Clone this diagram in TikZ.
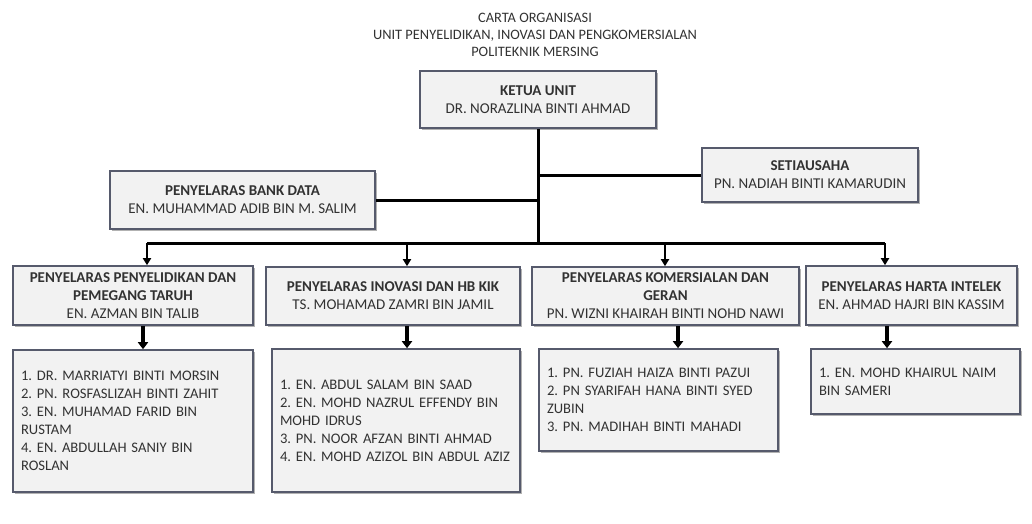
\documentclass[tikz,border=0pt]{standalone}
\usepackage{fontspec}
\setmainfont{Carlito}
\usetikzlibrary{arrows.meta, positioning, shadows}
\definecolor{boxline}{RGB}{86,90,108}
\definecolor{boxfill}{RGB}{242,242,242}
\definecolor{txtcolor}{RGB}{50,50,50}

\begin{document}
\frenchspacing
\begin{tikzpicture}[x=1pt, y=-1pt,
    box/.style={draw=boxline, line width=1.6pt, fill=boxfill, text=txtcolor, align=center, inner xsep=3pt, inner ysep=1pt, font=\fontsize{15}{18}\selectfont, drop shadow={shadow xshift=2pt, shadow yshift=-2pt, fill=black!55, opacity=0.55}},
    listbox/.style={box, align=left, inner xsep=8pt, font=\fontsize{14.6}{18}\selectfont},
    link/.style={line width=3pt},
    drop/.style={line width=2.6pt, -{Triangle[length=7pt, width=8pt]}},
    down/.style={line width=4pt, -{Triangle[length=7pt, width=10pt]}}]
    \useasboundingbox (0,0) rectangle (1032,523);

    % Title
    \node[text=txtcolor, align=center, font=\fontsize{14.4}{17}\selectfont] (title) at (535,35) {CARTA ORGANISASI\\UNIT PENYELIDIKAN, INOVASI DAN PENGKOMERSIALAN\\POLITEKNIK MERSING};

    % Top level
    \node[box, minimum width=236, minimum height=57] (ketua) at (538,99.5) {\textbf{KETUA UNIT}\\DR. NORAZLINA BINTI AHMAD};
    \node[box, minimum width=216, minimum height=54] (setia) at (810,175) {\textbf{SETIAUSAHA}\\PN. NADIAH BINTI KAMARUDIN};
    \node[box, minimum width=265, minimum height=58] (bankdata) at (242.5,200) {\textbf{PENYELARAS BANK DATA}\\EN. MUHAMMAD ADIB BIN M. SALIM};

    % Coordinators
    \node[box, minimum width=240, minimum height=59] (penyelidikan) at (133,295.5) {\textbf{PENYELARAS PENYELIDIKAN DAN}\\\textbf{PEMEGANG TARUH}\\EN. AZMAN BIN TALIB};
    \node[box, minimum width=254, minimum height=58] (inovasi) at (393,296) {\textbf{PENYELARAS INOVASI DAN HB KIK}\\TS. MOHAMAD ZAMRI BIN JAMIL};
    \node[box, minimum width=267, minimum height=58] (komersial) at (665.5,296) {\textbf{PENYELARAS KOMERSIALAN DAN}\\\textbf{GERAN}\\PN. WIZNI KHAIRAH BINTI NOHD NAWI};
    \node[box, minimum width=211, minimum height=59] (harta) at (911.5,295.5) {\textbf{PENYELARAS HARTA INTELEK}\\EN. AHMAD HAJRI BIN KASSIM};

    % Members
    \node[listbox, text width=224, minimum height=142] (penyelidikanAhli) at (133,421) {1. DR. MARRIATYI BINTI MORSIN\\2. PN. ROSFASLIZAH BINTI ZAHIT\\3. EN. MUHAMAD FARID BIN\\RUSTAM\\4. EN. ABDULLAH SANIY BIN\\ROSLAN};
    \node[listbox, text width=232, minimum height=143] (inovasiAhli) at (396,420.5) {1. EN. ABDUL SALAM BIN SAAD\\2. EN. MOHD NAZRUL EFFENDY BIN\\MOHD IDRUS\\3. PN. NOOR AFZAN BINTI AHMAD\\4. EN. MOHD AZIZOL BIN ABDUL AZIZ};
    \node[listbox, text width=223, minimum height=102] (komersialAhli) at (658.5,400) {1. PN. FUZIAH HAIZA BINTI PAZUI\\2. PN SYARIFAH HANA BINTI SYED\\ZUBIN\\3. PN. MADIHAH BINTI MAHADI};
    \node[listbox, text width=193, minimum height=65] (hartaAhli) at (915.5,381.5) {1. EN. MOHD KHAIRUL NAIM\\BIN SAMERI};

    % Bus line
    \coordinate (bus) at (ketua.south |- 0,243);
    \coordinate (busA) at (147,243);
    \coordinate (busB) at (407,243);
    \coordinate (busC) at (665,243);
    \coordinate (busD) at (885,243);

    \draw[link] (ketua.south) -- (bus);
    \draw[link] (bankdata.east) -- (bankdata.east -| ketua.south);
    \draw[link] (setia.west) -- (setia.west -| ketua.south);
    \draw[link] (busA) -- (busD);

    \draw[drop] (busA) -- (busA |- penyelidikan.north);
    \draw[drop] (busB) -- (busB |- inovasi.north);
    \draw[drop] (busC) -- (busC |- komersial.north);
    \draw[drop] (busD) -- (busD |- harta.north);

    % Arrows to members
    \draw[down] ([xshift=10pt]penyelidikan.south) -- ([xshift=10pt]penyelidikan.south |- penyelidikanAhli.north);
    \draw[down] ([xshift=14pt]inovasi.south) -- ([xshift=14pt]inovasi.south |- inovasiAhli.north);
    \draw[down] ([xshift=12.5pt]komersial.south) -- ([xshift=12.5pt]komersial.south |- komersialAhli.north);
    \draw[down] ([xshift=-24.5pt]harta.south) -- ([xshift=-24.5pt]harta.south |- hartaAhli.north);
\end{tikzpicture}
\end{document}
